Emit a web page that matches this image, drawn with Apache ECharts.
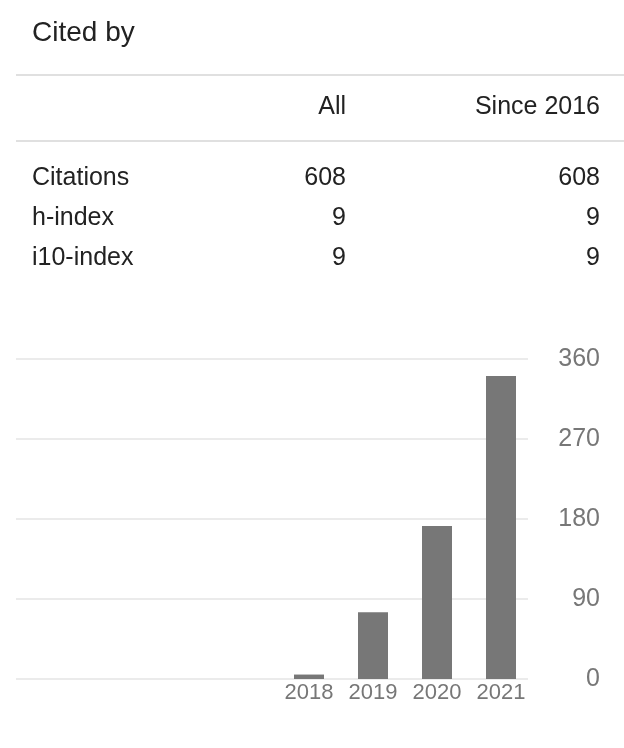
<!DOCTYPE html>
<html>
<head>
<meta charset="utf-8">
<script src="https://cdn.jsdelivr.net/npm/echarts@6/dist/echarts.min.js"></script>
<style>
  html, body { margin: 0; padding: 0; background: #fff; }
  #chart { width: 624px; height: 748px; }
</style>
</head>
<body>
<div id="chart"></div>
<script>
// data
var title = "Cited by";
var columnHeaders = ["All", "Since 2016"];
var rowLabels = ["Citations", "h-index", "i10-index"];
var allValues = [608, 9, 9];
var sinceValues = [608, 9, 9];

// left slots are empty years, only the last four have bars
var years = ["", "", "", "", "2018", "2019", "2020", "2021"];
var citations = [null, null, null, null, 5, 75, 172, 341];
var yTicks = [0, 90, 180, 270, 360];

var chart = echarts.init(document.getElementById("chart"));

var font = "'Liberation Sans', Arial, Helvetica, sans-serif";
var graphics = [];

graphics.push({
  type: "text", x: 32, y: 33,
  style: { text: title, font: "28px " + font, fill: "#222", verticalAlign: "middle" }
});
// table rules
[75, 141].forEach(function (y) {
  graphics.push({
    type: "line",
    shape: { x1: 16, y1: y, x2: 624, y2: y },
    style: { stroke: "#e0e0e0", lineWidth: 2 }
  });
});
// header row
graphics.push({
  type: "text", x: 346, y: 107,
  style: { text: columnHeaders[0], font: "25px " + font, fill: "#222", align: "right", verticalAlign: "middle" }
});
graphics.push({
  type: "text", x: 600, y: 107,
  style: { text: columnHeaders[1], font: "25px " + font, fill: "#222", align: "right", verticalAlign: "middle" }
});
rowLabels.forEach(function (lab, i) {
  var y = 178 + i * 40;
  graphics.push({
    type: "text", x: 32, y: y,
    style: { text: lab, font: "25px " + font, fill: "#222", align: "left", verticalAlign: "middle" }
  });
  graphics.push({
    type: "text", x: 346, y: y,
    style: { text: String(allValues[i]), font: "25px " + font, fill: "#222", align: "right", verticalAlign: "middle" }
  });
  graphics.push({
    type: "text", x: 600, y: y,
    style: { text: String(sinceValues[i]), font: "25px " + font, fill: "#222", align: "right", verticalAlign: "middle" }
  });
});

var option = {
  animation: false,
  backgroundColor: "#fff",
  graphic: graphics,
  grid: [
    // gridlines + value labels
    { left: 16, width: 512, top: 359, height: 320 },
    // bars
    { left: 21, width: 512, top: 359, height: 320 }
  ],
  xAxis: [
    { gridIndex: 0, type: "value", show: false, min: 0, max: 1 },
    {
      gridIndex: 1,
      type: "category",
      data: years,
      axisLine: { show: false },
      axisTick: { show: false },
      axisLabel: {
        color: "#777",
        fontSize: 22,
        fontFamily: font,
        margin: 3,
        interval: 0
      }
    }
  ],
  yAxis: [
    {
      gridIndex: 0,
      type: "value",
      position: "right",
      min: yTicks[0],
      max: yTicks[yTicks.length - 1],
      interval: yTicks[1] - yTicks[0],
      axisLine: { show: false },
      axisTick: { show: false },
      splitLine: { lineStyle: { color: "#ebebeb", width: 2 } },
      axisLabel: {
        color: "#777",
        fontSize: 25,
        fontFamily: font,
        align: "right",
        margin: 72
      }
    },
    {
      gridIndex: 1,
      type: "value",
      min: yTicks[0],
      max: yTicks[yTicks.length - 1],
      show: false
    }
  ],
  series: [
    {
      type: "bar",
      xAxisIndex: 1,
      yAxisIndex: 1,
      data: citations,
      barWidth: 30,
      itemStyle: { color: "#777777" }
    }
  ]
};

chart.setOption(option);
</script>
</body>
</html>
